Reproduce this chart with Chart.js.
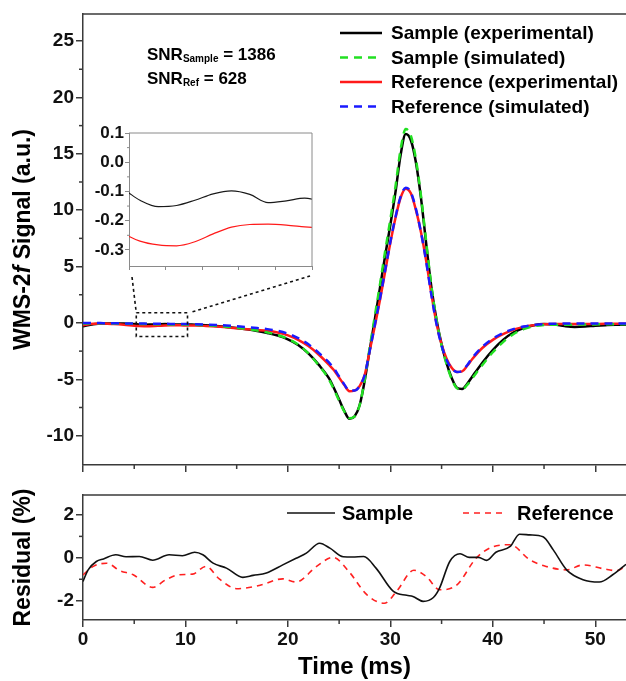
<!DOCTYPE html>
<html lang="en">
<head>
<meta charset="UTF-8">
<title>WMS-2f signal and residual</title>
<script src="https://cdn.jsdelivr.net/npm/chart.js"></script>
<style>
  html, body { margin: 0; padding: 0; background: #fff; }
  #wrap { position: relative; width: 626px; height: 681px; overflow: hidden; background: #fff; }
  canvas { position: absolute; }
  #mainChart { left: 0; top: 0; }
  #resChart { left: 0; top: 480px; }
  #insetChart { left: 90px; top: 120px; }
</style>
</head>
<body>
<div id="wrap">
  <canvas id="mainChart" width="626" height="480"></canvas>
  <canvas id="resChart" width="626" height="201"></canvas>
  <canvas id="insetChart" width="230" height="160"></canvas>
</div>

<script>
    const FONT = "'Liberation Sans', Arial, Helvetica, sans-serif";
    const FRAME = '#3a3a3a';

    // ---- main panel data (time in ms) ----
    const time = [
        0, 1, 2, 3, 4, 5,
        5.5, 6, 6.5, 7, 7.5, 8, 8.5, 9, 9.5, 10, 10.5,
        11, 12, 13, 14, 15, 16, 17, 18, 19, 20, 21, 22, 23, 24,
        24.5, 25, 25.5, 26, 26.5, 27, 27.5, 28, 28.5, 29, 29.5, 30, 30.5, 31,
        31.5, 32, 32.5, 33, 33.5, 34, 34.5, 35, 35.5, 36, 36.5, 37, 37.5, 38,
        39, 40, 41, 42, 43, 44, 45, 46, 47, 48, 49, 50, 51, 52, 53
    ];
    const sampleExp = [
        -0.3, -0.12, -0.05, -0.04, -0.06, -0.09,
        -0.13, -0.152, -0.148, -0.13, -0.108, -0.098, -0.11, -0.138, -0.132, -0.123, -0.135,
        -0.15, -0.2, -0.27, -0.35, -0.45, -0.57, -0.72, -0.9, -1.12, -1.45, -1.95, -2.7, -3.7, -4.9,
        -5.8, -6.8, -7.8, -8.5, -8.3, -7.3, -5.1, -2.3, 0.4, 3.2, 6.0, 8.7, 11.6, 14.9,
        16.75, 16.2, 14.2, 11.0, 7.0, 3.2, 0.3, -1.9, -3.6, -4.9, -5.75, -5.85, -5.4, -4.75,
        -3.5, -2.4, -1.5, -0.85, -0.45, -0.2, -0.1, -0.15, -0.28, -0.35, -0.32, -0.25, -0.2, -0.17, -0.17
    ];
    const sampleSim = [
        -0.05, -0.03, -0.03, -0.04, -0.06, -0.08,
        -0.09, -0.1, -0.11, -0.115, -0.12, -0.125, -0.13, -0.135, -0.14, -0.145, -0.155,
        -0.165, -0.21, -0.26, -0.33, -0.42, -0.53, -0.67, -0.85, -1.08, -1.42, -1.92, -2.7, -3.75, -5.0,
        -5.9, -6.9, -7.85, -8.45, -8.3, -7.3, -5.0, -2.1, 0.7, 3.5, 6.4, 9.2, 12.1, 15.4,
        17.2, 16.6, 14.5, 11.2, 7.2, 3.3, 0.3, -2.0, -3.7, -5.0, -5.8, -5.9, -5.5, -4.9,
        -3.7, -2.6, -1.7, -1.0, -0.55, -0.3, -0.18, -0.15, -0.15, -0.15, -0.14, -0.13, -0.12, -0.12, -0.11
    ];
    const refExp = [
        -0.2, -0.08, -0.06, -0.1, -0.16, -0.24,
        -0.27, -0.283, -0.286, -0.272, -0.245, -0.222, -0.213, -0.212, -0.215, -0.221, -0.226,
        -0.23, -0.27, -0.32, -0.39, -0.47, -0.55, -0.62, -0.7, -0.85, -1.1, -1.5, -2.05, -2.8, -3.7,
        -4.2, -4.85, -5.5, -6.05, -6.0, -5.6, -4.6, -2.4, -0.2, 2.1, 4.6, 7.1, 9.3, 11.1,
        11.9, 11.5, 10.0, 8.0, 5.5, 2.6, 0.0, -1.9, -3.2, -4.0, -4.35, -4.3, -3.8, -3.2,
        -2.2, -1.5, -1.0, -0.6, -0.35, -0.2, -0.12, -0.1, -0.1, -0.1, -0.1, -0.09, -0.08, -0.08, -0.08
    ];
    const refSim = [
        0, -0.01, -0.02, -0.03, -0.04, -0.05,
        -0.055, -0.06, -0.065, -0.07, -0.075, -0.08, -0.085, -0.09, -0.095, -0.1, -0.105,
        -0.11, -0.14, -0.18, -0.23, -0.3, -0.37, -0.45, -0.55, -0.7, -0.95, -1.35, -1.9, -2.65, -3.5,
        -4.05, -4.75, -5.45, -6.0, -6.0, -5.6, -4.6, -2.4, -0.1, 2.2, 4.7, 7.2, 9.4, 11.2,
        12.0, 11.6, 10.1, 8.0, 5.4, 2.5, -0.1, -2.0, -3.3, -4.05, -4.35, -4.25, -3.75, -3.1,
        -2.1, -1.4, -0.9, -0.55, -0.32, -0.18, -0.1, -0.07, -0.05, -0.05, -0.05, -0.04, -0.04, -0.04, -0.04
    ];
    const seriesNames = ['Sample (experimental)', 'Sample (simulated)', 'Reference (experimental)', 'Reference (simulated)'];
    const snrSample = 1386;
    const snrRef = 628;

    const timeTicks = [0, 10, 20, 30, 40, 50];
    const timeMinor = [5, 15, 25, 35, 45];
    const mainYTicks = [-10, -5, 0, 5, 10, 15, 20, 25];
    const mainYMinor = [-7.5, -2.5, 2.5, 7.5, 12.5, 17.5, 22.5];

    // ---- inset (zoom of the experimental curves) ----
    const insetRange = [5.2, 10.2];
    const boxY = [0.9, -1.2];
    const insetYTicks = [0.1, 0, -0.1, -0.2, -0.3];
    const insetYMinor = [0.05, -0.05, -0.15, -0.25];

    // ---- residual panel ----
    const resSampleT = [0, 0.5, 1.3, 2, 3.2, 4.2, 5.5, 6.8, 8.4, 9.7, 10.9, 11.7, 12.7, 14, 15.6, 16.6, 17.9, 19.5, 20.8, 21.8,
        23.1, 24.1, 25.4, 26.3, 27.4, 28.6, 30.3, 31.6, 32.2, 33.2, 34.2, 34.8, 35.8, 36.8, 37.7, 38.6, 39.4, 40.3, 41.7,
        42.6, 43.6, 44.9, 45.9, 47.2, 48.8, 50.4, 51.7, 53];
    const resSampleV = [-1.1, -0.56, -0.17, -0.05, 0.14, 0.05, 0.06, -0.11, 0.14, 0.1, 0.26, 0.14, -0.25, -0.48, -0.91, -0.82, -0.71, -0.33, -0.02, 0.22,
        0.68, 0.45, 0.05, 0.04, 0.06, -0.48, -1.57, -1.75, -1.8, -2.03, -1.85, -1.41, -0.17, 0.19, 0.02, 0.02, -0.12, 0.26, 0.53,
        1.1, 1.07, 0.98, 0.37, -0.56, -1.02, -1.13, -0.79, -0.3];
    const resRefT = [0, 1, 2.3, 3.6, 4.9, 6.8, 8.1, 9.4, 10.7, 12, 13.3, 15, 17.2, 19.5, 20.8, 22.8, 24.4, 26, 27.7,
        29.4, 30.6, 32.3, 33.5, 34.8, 36.5, 38.4, 40.1, 41.7, 43.6, 45.2, 47.2, 48.8, 50.8, 52.1, 53];
    const resRefV = [-0.8, -0.4, -0.25, -0.6, -0.79, -1.38, -1.02, -0.79, -0.76, -0.4, -0.98, -1.44, -1.29, -0.98, -1.13, -0.4, 0.02, -0.67, -1.72,
        -2.12, -1.57, -0.58, -0.87, -1.49, -1.26, 0.0, 0.53, 0.61, -0.09, -0.4, -0.56, -0.33, -0.51, -0.6, -0.37];
    const resNames = ['Sample', 'Reference'];
    const resYTicks = [-2, 0, 2];
    const resYMinor = [-1, 1];

    function pts(xs, ys) {
        return xs.map((x, i) => ({ x: x, y: ys[i] }));
    }

    function fixTicks(values) {
        return function (scale) {
            scale.ticks = values.map(v => ({ value: v }));
        };
    }

    function seg(ctx, x0, y0, x1, y1) {
        ctx.beginPath();
        ctx.moveTo(x0, y0);
        ctx.lineTo(x1, y1);
        ctx.stroke();
    }

    // text with smaller subscript parts: [text, size, dy]
    function rich(ctx, x, y, parts) {
        ctx.textBaseline = 'alphabetic';
        ctx.textAlign = 'left';
        parts.forEach(p => {
            ctx.font = 'bold ' + p[1] + 'px ' + FONT;
            ctx.fillText(p[0], x, y + p[2]);
            x += ctx.measureText(p[0]).width;
        });
    }

    function axisLine() {
        return { display: true, color: FRAME, width: 1.5 };
    }

    // ---------- main chart ----------
    const mainDecor = {
        id: 'mainDecor',
        afterDraw(chart) {
            const { ctx, chartArea: a, scales: { x, y } } = chart;
            ctx.save();
            ctx.strokeStyle = FRAME;
            ctx.lineWidth = 1.5;
            seg(ctx, a.left, a.top, a.right, a.top);
            timeMinor.forEach(v => {
                const p = x.getPixelForValue(v);
                seg(ctx, p, a.bottom, p, a.bottom + 4);
            });
            mainYMinor.forEach(v => {
                const p = y.getPixelForValue(v);
                seg(ctx, a.left - 4, p, a.left, p);
            });

            // zoom box and connectors to the inset
            const bx0 = x.getPixelForValue(insetRange[0]);
            const bx1 = x.getPixelForValue(insetRange[1]);
            const by0 = y.getPixelForValue(boxY[0]);
            const by1 = y.getPixelForValue(boxY[1]);
            ctx.strokeStyle = '#111';
            ctx.lineWidth = 1.6;
            ctx.setLineDash([3, 3]);
            ctx.strokeRect(bx0, by0, bx1 - bx0, by1 - by0);
            seg(ctx, 132, 277, bx0, by0);
            seg(ctx, bx1 + 5, by0 - 1, 310, 276);
            ctx.setLineDash([]);

            // legend
            ctx.fillStyle = '#000';
            ctx.textAlign = 'left';
            ctx.textBaseline = 'middle';
            chart.data.datasets.forEach((ds, i) => {
                const yy = 33 + i * 24.5;
                ctx.strokeStyle = ds.borderColor;
                ctx.lineWidth = 2.5;
                ctx.setLineDash(ds.borderDash || []);
                seg(ctx, 340, yy, 382, yy);
                ctx.setLineDash([]);
                ctx.font = 'bold 19px ' + FONT;
                ctx.fillText(ds.label, 391, yy + 1);
            });

            // SNR annotations
            rich(ctx, 147, 60, [['SNR', 17, 0], ['Sample', 10, 2], [' = ' + snrSample, 17, 0]]);
            rich(ctx, 147, 84, [['SNR', 17, 0], ['Ref', 10, 2], [' = ' + snrRef, 17, 0]]);

            // y title with italic f
            const parts = [['WMS-2', 'bold'], ['f', 'italic bold'], [' Signal (a.u.)', 'bold']];
            ctx.translate(24, (a.top + a.bottom) / 2);
            ctx.rotate(-Math.PI / 2);
            let w = 0;
            parts.forEach(p => {
                ctx.font = p[1] + ' 23px ' + FONT;
                w += ctx.measureText(p[0]).width;
            });
            let cx = -w / 2;
            ctx.textBaseline = 'middle';
            parts.forEach(p => {
                ctx.font = p[1] + ' 23px ' + FONT;
                ctx.fillText(p[0], cx, 0);
                cx += ctx.measureText(p[0]).width;
            });
            ctx.restore();
        }
    };

    const mainChart = new Chart(document.getElementById('mainChart'), {
        type: 'line',
        data: {
            datasets: [
                { label: seriesNames[0], data: pts(time, sampleExp), borderColor: '#000000', order: 4 },
                { label: seriesNames[1], data: pts(time, sampleSim), borderColor: '#22e022', borderDash: [8, 6], order: 2 },
                { label: seriesNames[2], data: pts(time, refExp), borderColor: '#ff1a1a', order: 3 },
                { label: seriesNames[3], data: pts(time, refSim), borderColor: '#1a1aff', borderDash: [8, 6], order: 1 }
            ]
        },
        options: {
            responsive: false,
            animation: false,
            events: [],
            layout: { padding: { top: 14, right: 0, bottom: 0, left: 0 } },
            elements: {
                point: { radius: 0 },
                line: { borderWidth: 2.5, cubicInterpolationMode: 'monotone', fill: false }
            },
            plugins: { legend: { display: false }, tooltip: { enabled: false } },
            scales: {
                x: {
                    type: 'linear', min: 0, max: 53,
                    afterBuildTicks: fixTicks(timeTicks),
                    afterFit: s => { s.height = 15; },
                    ticks: { display: false },
                    grid: { drawOnChartArea: false, tickLength: 7, color: FRAME, lineWidth: 1.5 },
                    border: axisLine()
                },
                y: {
                    min: -12.6, max: 27.4,
                    afterBuildTicks: fixTicks(mainYTicks),
                    afterFit: s => { s.width = 83; },
                    ticks: { color: '#111', padding: 2, font: { family: FONT, size: 19, weight: 'bold' } },
                    grid: { drawOnChartArea: false, tickLength: 7, color: FRAME, lineWidth: 1.5 },
                    border: axisLine()
                }
            }
        },
        plugins: [mainDecor]
    });

    // ---------- inset ----------
    const insetDecor = {
        id: 'insetDecor',
        afterDraw(chart) {
            const { ctx, chartArea: a, scales: { y } } = chart;
            ctx.save();
            ctx.strokeStyle = '#8a8a8a';
            ctx.lineWidth = 1;
            seg(ctx, a.left, a.top, a.right, a.top);
            seg(ctx, a.right, a.top, a.right, a.bottom);
            insetYMinor.forEach(v => {
                const p = y.getPixelForValue(v);
                seg(ctx, a.left - 2, p, a.left, p);
            });
            ctx.restore();
        }
    };

    const insetChart = new Chart(document.getElementById('insetChart'), {
        type: 'line',
        data: {
            datasets: [
                { label: seriesNames[0], data: pts(time, sampleExp), borderColor: '#1a1a1a' },
                { label: seriesNames[2], data: pts(time, refExp), borderColor: '#ff1a1a' }
            ]
        },
        options: {
            responsive: false,
            animation: false,
            events: [],
            layout: { padding: { top: 13, right: 8, bottom: 0, left: 0 } },
            elements: {
                point: { radius: 0 },
                line: { borderWidth: 1.2, cubicInterpolationMode: 'monotone', fill: false }
            },
            plugins: { legend: { display: false }, tooltip: { enabled: false } },
            scales: {
                x: {
                    type: 'linear', min: insetRange[0], max: insetRange[1],
                    afterBuildTicks: fixTicks([0, 1, 2, 3, 4, 5].map(i => insetRange[0] + i)),
                    afterFit: s => { s.height = 14; },
                    ticks: { display: false },
                    grid: { drawOnChartArea: false, tickLength: 4, color: '#8a8a8a', lineWidth: 1 },
                    border: { display: true, color: '#8a8a8a', width: 1 }
                },
                y: {
                    min: -0.355, max: 0.1,
                    afterBuildTicks: fixTicks(insetYTicks),
                    afterFit: s => { s.width = 39; },
                    ticks: {
                        color: '#111', padding: 1,
                        font: { family: FONT, size: 17, weight: 'bold' },
                        callback: v => v.toFixed(1)
                    },
                    grid: { drawOnChartArea: false, tickLength: 4, color: '#8a8a8a', lineWidth: 1 },
                    border: { display: true, color: '#8a8a8a', width: 1 }
                }
            }
        },
        plugins: [insetDecor]
    });

    // ---------- residual chart ----------
    const resDecor = {
        id: 'resDecor',
        afterDraw(chart) {
            const { ctx, chartArea: a, scales: { x, y } } = chart;
            ctx.save();
            ctx.strokeStyle = FRAME;
            ctx.lineWidth = 1.5;
            seg(ctx, a.left, a.top, a.right, a.top);
            timeMinor.forEach(v => {
                const p = x.getPixelForValue(v);
                seg(ctx, p, a.bottom, p, a.bottom + 4);
            });
            resYMinor.forEach(v => {
                const p = y.getPixelForValue(v);
                seg(ctx, a.left - 4, p, a.left, p);
            });

            // legend (one row)
            const items = [[287, 335, 342], [463, 503, 517]];
            ctx.fillStyle = '#000';
            ctx.textAlign = 'left';
            ctx.textBaseline = 'middle';
            ctx.font = 'bold 20px ' + FONT;
            chart.data.datasets.forEach((ds, i) => {
                const it = items[i];
                ctx.strokeStyle = ds.borderColor;
                ctx.lineWidth = 1.6;
                ctx.setLineDash(ds.borderDash || []);
                seg(ctx, it[0], 33, it[1], 33);
                ctx.setLineDash([]);
                ctx.fillText(ds.label, it[2], 34);
            });
            ctx.restore();
        }
    };

    const resChart = new Chart(document.getElementById('resChart'), {
        type: 'line',
        data: {
            datasets: [
                { label: resNames[0], data: pts(resSampleT, resSampleV), borderColor: '#111111' },
                { label: resNames[1], data: pts(resRefT, resRefV), borderColor: '#ff2020', borderDash: [6, 5] }
            ]
        },
        options: {
            responsive: false,
            animation: false,
            events: [],
            layout: { padding: { top: 15, right: 0, bottom: 0, left: 0 } },
            elements: {
                point: { radius: 0 },
                line: { borderWidth: 1.6, cubicInterpolationMode: 'monotone', fill: false }
            },
            plugins: { legend: { display: false }, tooltip: { enabled: false } },
            scales: {
                x: {
                    type: 'linear', min: 0, max: 53,
                    afterBuildTicks: fixTicks(timeTicks),
                    afterFit: s => { s.height = 61; },
                    ticks: { color: '#111', padding: 1, font: { family: FONT, size: 19, weight: 'bold' } },
                    grid: { drawOnChartArea: false, tickLength: 7, color: FRAME, lineWidth: 1.5 },
                    border: axisLine(),
                    title: {
                        display: true, text: 'Time (ms)', color: '#000',
                        font: { family: FONT, size: 24, weight: 'bold', lineHeight: 1.1 },
                        padding: { top: 0, bottom: 0 }
                    }
                },
                y: {
                    min: -2.9, max: 2.93,
                    afterBuildTicks: fixTicks(resYTicks),
                    afterFit: s => { s.width = 83; },
                    ticks: { color: '#111', padding: 2, font: { family: FONT, size: 19, weight: 'bold' } },
                    grid: { drawOnChartArea: false, tickLength: 7, color: FRAME, lineWidth: 1.5 },
                    border: axisLine(),
                    title: {
                        display: true, text: 'Residual (%)', color: '#000',
                        font: { family: FONT, size: 23, weight: 'bold' },
                        padding: { top: 10, bottom: 0 }
                    }
                }
            }
        },
        plugins: [resDecor]
    });
</script>
</body>
</html>
